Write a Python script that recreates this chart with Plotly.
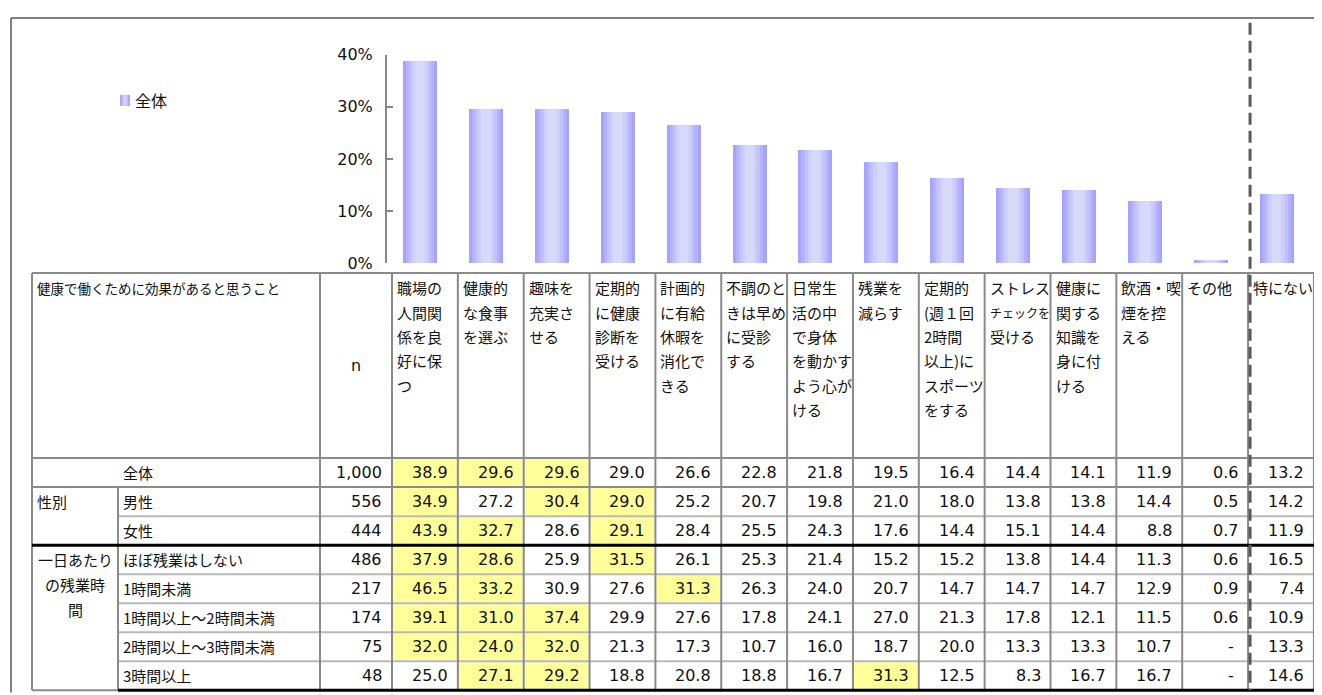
import plotly.graph_objects as go

# ---------------- data ----------------
categories = [
    "職場の<br>人間関<br>係を良<br>好に保<br>つ",
    "健康的<br>な食事<br>を選ぶ",
    "趣味を<br>充実さ<br>せる",
    "定期的<br>に健康<br>診断を<br>受ける",
    "計画的<br>に有給<br>休暇を<br>消化で<br>きる",
    "不調のと<br>きは早め<br>に受診<br>する",
    "日常生<br>活の中<br>で身体<br>を動かす<br>よう心が<br>ける",
    "残業を<br>減らす",
    "定期的<br>(週１回<br>2時間<br>以上)に<br>スポーツ<br>をする",
    "ストレス<br>チェックを<br>受ける",
    "健康に<br>関する<br>知識を<br>身に付<br>ける",
    "飲酒・喫<br>煙を控<br>える",
    "その他",
    "特にない",
]
table_title = "健康で働くために効果があると思うこと"
n_header = "n"
series_name = "全体"

row_labels = ["全体", "男性", "女性", "ほぼ残業はしない", "1時間未満",
              "1時間以上～2時間未満", "2時間以上～3時間未満", "3時間以上"]
group_sex = "性別"
group_overtime = ["一日あたり", "の残業時", "間"]
row_n = [1000, 556, 444, 486, 217, 174, 75, 48]

v_total   = [38.9, 29.6, 29.6, 29.0, 26.6, 22.8, 21.8, 19.5, 16.4, 14.4, 14.1, 11.9, 0.6, 13.2]
v_male    = [34.9, 27.2, 30.4, 29.0, 25.2, 20.7, 19.8, 21.0, 18.0, 13.8, 13.8, 14.4, 0.5, 14.2]
v_female  = [43.9, 32.7, 28.6, 29.1, 28.4, 25.5, 24.3, 17.6, 14.4, 15.1, 14.4, 8.8, 0.7, 11.9]
v_none    = [37.9, 28.6, 25.9, 31.5, 26.1, 25.3, 21.4, 15.2, 15.2, 13.8, 14.4, 11.3, 0.6, 16.5]
v_lt1     = [46.5, 33.2, 30.9, 27.6, 31.3, 26.3, 24.0, 20.7, 14.7, 14.7, 14.7, 12.9, 0.9, 7.4]
v_1to2    = [39.1, 31.0, 37.4, 29.9, 27.6, 17.8, 24.1, 27.0, 21.3, 17.8, 12.1, 11.5, 0.6, 10.9]
v_2to3    = [32.0, 24.0, 32.0, 21.3, 17.3, 10.7, 16.0, 18.7, 20.0, 13.3, 13.3, 10.7, None, 13.3]
v_ge3     = [25.0, 27.1, 29.2, 18.8, 20.8, 18.8, 16.7, 31.3, 12.5, 8.3, 16.7, 16.7, None, 14.6]
table_rows = [v_total, v_male, v_female, v_none, v_lt1, v_1to2, v_2to3, v_ge3]

y_ticks = [0, 10, 20, 30, 40]
y_tick_text = ["0%", "10%", "20%", "30%", "40%"]

# ---------------- layout constants ----------------
# Target positions are given in screen pixels of the 1322x695 picture and
# converted to figure-paper fractions (page has a body margin).
OFF_X = 8
W, H = 1322 - OFF_X, 695
Y_OFF, Y_SCALE = 17.2, 0.972
JP = "Noto Sans CJK JP"
NUM = "Verdana, DejaVu Sans, Noto Sans CJK JP"
GRID = "#8a8a8a"
LIGHT = "#b8b8b8"

def X(px):
    return (px - OFF_X) / W

def Y(py):
    fy = (py - Y_OFF) / Y_SCALE
    fy = min(max(fy, 1.0), H - 0.5)
    return 1 - fy / H

bar0_px, bar_step_px, bar_w_px = 420.0, 65.9, 34.0
axis_px = 387.0
y0_px, y40_px = 263.0, 55.0

tbl_left, grp_split, n_left, col0 = 32.0, 118.0, 320.0, 392.0
col_w = 65.85
tbl_top, head_bottom, row_h = 273.0, 458.0, 29.0
ncol = len(categories)
col_edges = [col0 + col_w * k for k in range(ncol + 1)]
tbl_right = col_edges[-1]
row_edges = [head_bottom + row_h * k for k in range(len(table_rows) + 1)]
dash_x = col_edges[ncol - 1] + 2

fig = go.Figure()

# ---------------- bars (gradient via overlaid narrower layers) ----------------
xs = list(range(ncol))
unit = bar_w_px / bar_step_px
layers = [(1.00, "#a4a4ff"), (0.82, "#b2b2fd"), (0.64, "#c1c1fb"),
          (0.46, "#cecef9"), (0.28, "#d8d8f8")]
for i, (frac, col) in enumerate(layers):
    fig.add_trace(go.Bar(
        x=xs, y=v_total, width=unit * frac,
        marker=dict(color=col, line=dict(width=0)),
        name=series_name, showlegend=False,
        hoverinfo="skip" if i else None,
    ))

x_lo = (axis_px - bar0_px) / bar_step_px
x_hi = (OFF_X + W - bar0_px) / bar_step_px

fig.update_layout(
    width=W, height=H, margin=dict(l=0, r=0, t=0, b=0),
    paper_bgcolor="white", plot_bgcolor="rgba(0,0,0,0)",
    barmode="overlay", bargap=0, showlegend=False,
    xaxis=dict(domain=[X(axis_px), 1], range=[x_lo, x_hi], visible=False),
    yaxis=dict(domain=[Y(y0_px), Y(y40_px)], range=[0, 40],
               tickvals=y_ticks, ticktext=y_tick_text,
               showline=True, linecolor="#868686", linewidth=2,
               ticks="inside", ticklen=6, tickwidth=2, tickcolor="#868686",
               showgrid=False, zeroline=False, ticklabelstandoff=9,
               tickfont=dict(family=NUM, size=16, color="#111")),
)

shapes = []
annots = []

def hline(y, x0, x1, color, w):
    shapes.append(dict(type="line", xref="paper", yref="paper",
                       x0=X(x0), x1=X(x1), y0=Y(y), y1=Y(y),
                       line=dict(color=color, width=w)))

def vline(x, y0, y1, color, w, dash=None):
    d = dict(color=color, width=w)
    if dash:
        d["dash"] = dash
    shapes.append(dict(type="line", xref="paper", yref="paper",
                       x0=X(x), x1=X(x), y0=Y(y0), y1=Y(y1), line=d))

def rect(x0, x1, y0, y1, color, layer="below"):
    shapes.append(dict(type="rect", xref="paper", yref="paper", layer=layer,
                       x0=X(x0), x1=X(x1), y0=Y(y0), y1=Y(y1),
                       fillcolor=color, line=dict(width=0)))

def text(s, x, y, xanchor="left", family=JP, size=15):
    annots.append(dict(text=s, x=X(x), y=Y(y), xref="paper", yref="paper",
                       xanchor=xanchor, yanchor="middle", showarrow=False,
                       borderpad=0, font=dict(family=family, size=size, color="#111")))

# legend (manual, gradient swatch)
rect(120, 130, 95, 106, "#a8a8ff", layer="above")
rect(122.5, 127.5, 95, 106, "#d0d0fa", layer="above")
text(series_name, 134, 100.5, size=16)

# highlight top 3 (excluding 特にない) per row
for r, vals in enumerate(table_rows):
    cand = [(v, c) for c, v in enumerate(vals[:-1]) if v is not None]
    cand.sort(key=lambda t: -t[0])
    for v, c in cand[:3]:
        rect(col_edges[c] + 1, col_edges[c + 1] - 1,
             row_edges[r] + 1, row_edges[r + 1] - 1, "#ffff99")

# outer frame
hline(13, 11, OFF_X + W, "#555555", 1.5)
vline(11, 13, 700, "#555555", 1.5)

# table grid
hline(tbl_top, tbl_left, tbl_right, GRID, 2)
hline(head_bottom, tbl_left, tbl_right, GRID, 2)
hline(row_edges[1], tbl_left, tbl_right, GRID, 2)
hline(row_edges[2], grp_split, tbl_right, LIGHT, 2)
for k in (4, 5, 6, 7):
    hline(row_edges[k], grp_split, tbl_right, LIGHT, 2)
vline(tbl_left, tbl_top, row_edges[-1], GRID, 2)
vline(grp_split, row_edges[1], row_edges[-1], GRID, 2)
vline(n_left, tbl_top, row_edges[-1], GRID, 2)
for xe in col_edges:
    vline(xe, tbl_top, row_edges[-1], GRID, 2)
hline(row_edges[3], tbl_left, tbl_right, "#000000", 3)
hline(row_edges[-1], tbl_left, grp_split, GRID, 2)
hline(row_edges[-1], grp_split, tbl_right, "#000000", 3)
vline(dash_x, 23, row_edges[-1], "#5a5a5a", 3, dash="12px,6px")

# header texts
text(table_title, tbl_left + 4, 288, size=13.5)
text(n_header, (n_left + col0) / 2, (tbl_top + head_bottom) / 2,
     xanchor="center", family=NUM, size=16)
for c, cat in enumerate(categories):
    for li, line in enumerate(cat.split("<br>")):
        sz = 15 if len(line) <= 4 else 12
        text(line, col_edges[c] + 4, 288 + 24.3 * li, size=sz)

# row labels and values
for r, lab in enumerate(row_labels):
    yc = (row_edges[r] + row_edges[r + 1]) / 2
    text(lab, grp_split + 4, yc, size=15)
    text(f"{row_n[r]:,}", col0 - 9, yc, xanchor="right", family=NUM, size=16)
    for c, v in enumerate(table_rows[r]):
        s = "-" if v is None else f"{v:.1f}"
        xr = col_edges[c + 1] - 9 - (4 if v is None else 0)
        text(s, xr, yc, xanchor="right", family=NUM, size=16)

text(group_sex, tbl_left + 4, (row_edges[1] + row_edges[2]) / 2, size=15)
for li, line in enumerate(group_overtime):
    text(line, (tbl_left + grp_split) / 2,
         (row_edges[3] + row_edges[4]) / 2 + 25 * li, xanchor="center", size=15)

fig.update_layout(shapes=shapes, annotations=annots)
fig.write_html("out.html")
